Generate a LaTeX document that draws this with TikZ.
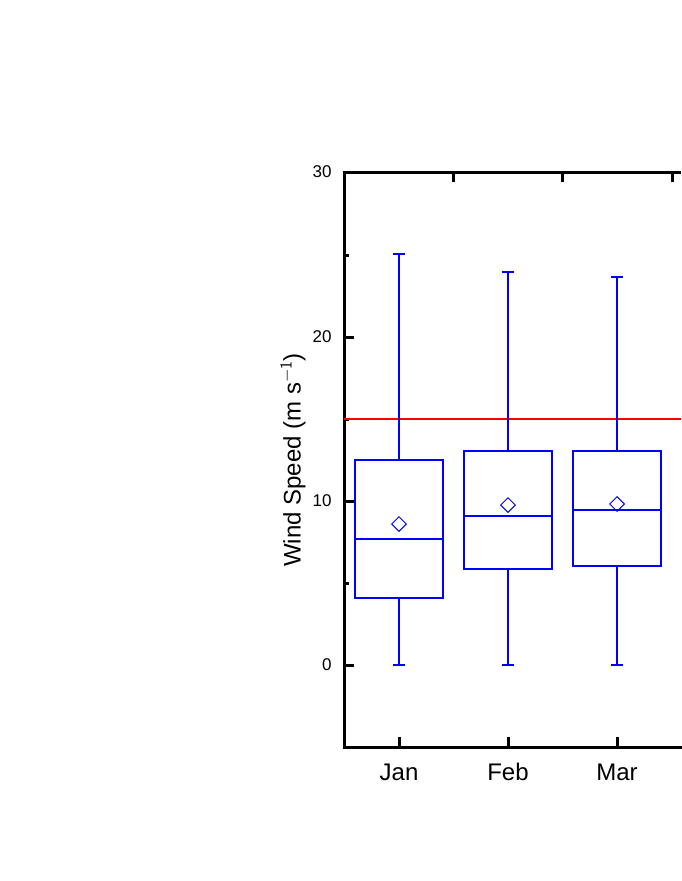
\documentclass[tikz,border=0pt]{standalone}
\usepackage{fontspec}
\setmainfont{Liberation Sans}
\usetikzlibrary{shapes.geometric}
\begin{document}
\begin{tikzpicture}[x=1pt,y=-1pt,
    axis/.style={line width=3pt},
    box/.style={draw=blue, line width=2pt},
    meanmark/.style={draw=blue, line width=1pt, shape=diamond, inner sep=0pt, minimum size=15pt}]
    \useasboundingbox (0,0) rectangle (681,881);
    % axes
    \draw[axis, line cap=rect] (344,172) -- (344,747) -- (681,747);
    \draw[axis] (344,172) -- (681,172);
    \foreach \v/\y in {0/665,10/501,20/337,30/172} {
        \draw[axis] (344,\y) -- (354,\y);
        \node[anchor=east, font=\fontsize{17}{17}\selectfont] (ylab\v) at (335,\y) {\v};
    }
    \foreach \y in {255,419,583} \draw[axis] (344,\y) -- (349,\y);
    \foreach \x in {453,562,672} \draw[axis] (\x,172) -- (\x,182);
    \foreach \x/\m in {399/Jan,508/Feb,617/Mar} {
        \draw[axis] (\x,747) -- (\x,737);
        \node[font=\fontsize{24}{24}\selectfont] (month\m) at (\x,772) {\m};
    }
    \node[rotate=90, font=\fontsize{24}{24}\selectfont] (ytitle) at (293,460) {Wind Speed (m s$^{\mathsf{-1}}$)};
    % reference line
    \draw[red, line width=2pt] (344,419) -- (681,419);
    % boxes: x, whisker top, box top, median, box bottom, mean
    \foreach \x/\wt/\bt/\md/\bb/\mn in {399/254/460/539/598/524, 508/272/451/516/569/505, 617/277/451/510/566/504} {
        \draw[box] (\x-44,\bt) rectangle (\x+44,\bb);
        \draw[box] (\x-44,\md) -- (\x+44,\md);
        \draw[box] (\x,\bt) -- (\x,\wt) (\x-6,\wt) -- (\x+6,\wt);
        \draw[box] (\x,\bb) -- (\x,665) (\x-6,665) -- (\x+6,665);
        \node[meanmark] at (\x,\mn) {};
    }
\end{tikzpicture}
\end{document}
